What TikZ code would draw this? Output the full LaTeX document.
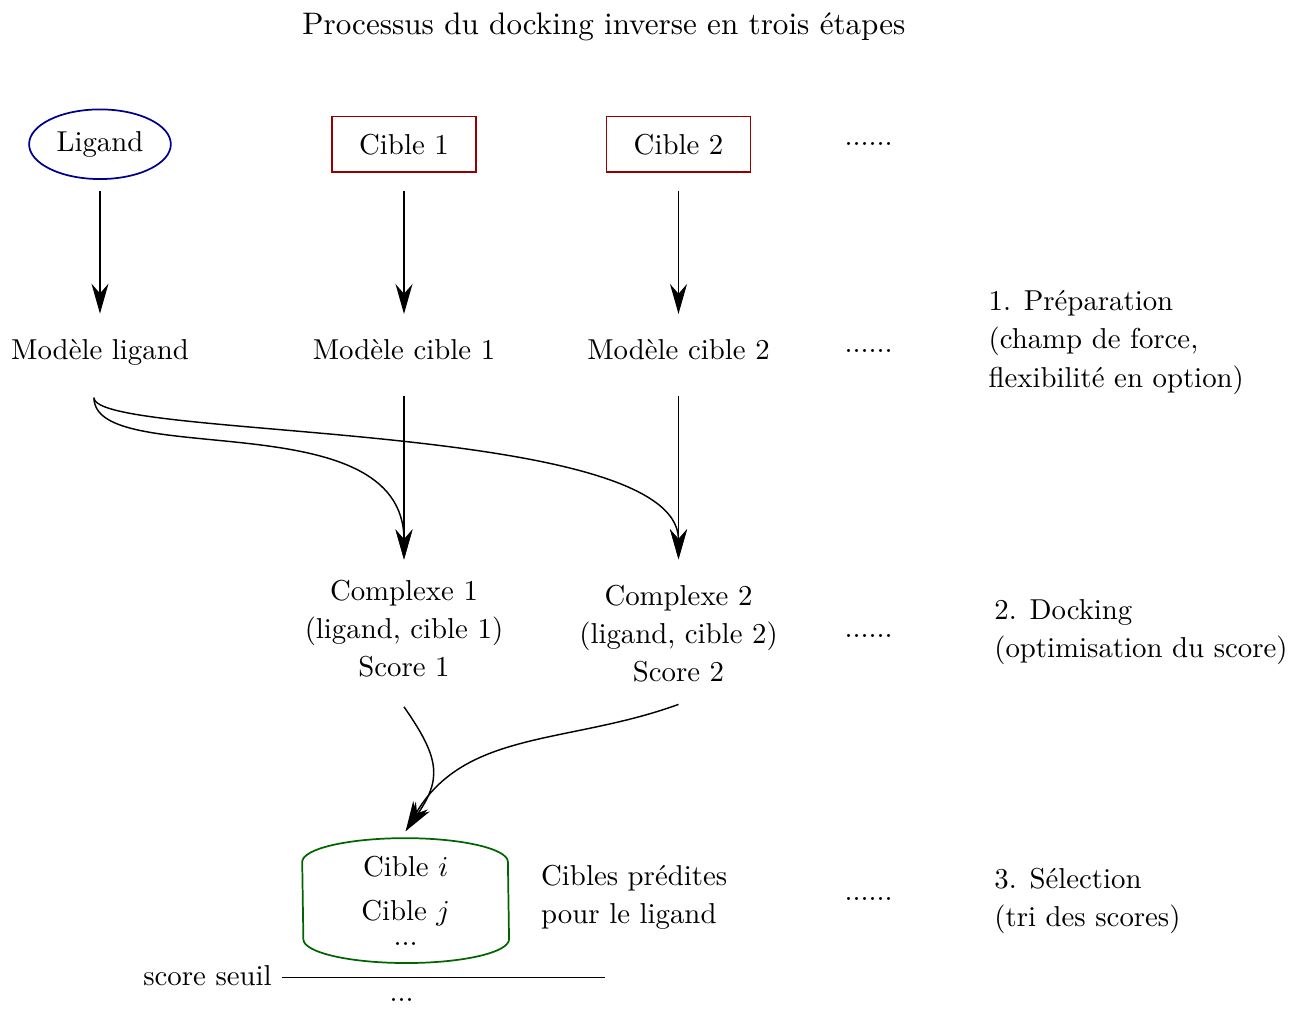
\documentclass[tikz,border=0pt]{standalone}
\usepackage{amsmath}
\usepackage{tikz}
\usepackage{xcolor}
\usetikzlibrary{positioning,shapes,arrows.meta}
\definecolor{bleuligand}{RGB}{0,0,140}
\definecolor{rougecible}{RGB}{150,0,0}
\definecolor{vertcible}{RGB}{0,100,0}
\linespread{1.1}

\begin{document}
\begin{tikzpicture}
\tikzstyle{fleche}=[-{Stealth[length=10.4pt,width=5.9pt]},line width=0.5pt]
\tikzstyle{ligandnode}=[ellipse,draw=bleuligand,line width=0.6pt,minimum width=1.73cm,minimum height=0.85cm,inner sep=0pt]
\tikzstyle{ciblenode}=[rectangle,draw=rougecible,line width=0.6pt,minimum width=1.76cm,minimum height=0.68cm,inner sep=0pt]
\tikzstyle{etape}=[align=left,anchor=west]
\useasboundingbox (0,0) rectangle (15.73,-12.32);
\node[font=\fontsize{10.8}{13}\selectfont] (titre) at (7.37,-0.33) {Processus du docking inverse en trois étapes};
\node[ligandnode] (ligand) at (1.22,-1.76) {Ligand};
\node[ciblenode] (cible1) at (4.93,-1.76) {Cible 1};
\node[ciblenode] (cible2) at (8.28,-1.76) {Cible 2};
\node (pts1) at (10.60,-1.76) {......};
\node (mligand) at (1.22,-4.30) {Modèle ligand};
\node (mcible1) at (4.93,-4.27) {Modèle cible 1};
\node (mcible2) at (8.28,-4.27) {Modèle cible 2};
\node (pts2) at (10.60,-4.28) {......};
\node[etape] (prep) at (11.94,-4.18) {1. Préparation\\(champ de force,\\flexibilité en option)};
\node[align=center] (cplx1) at (4.93,-7.67) {Complexe 1\\(ligand, cible 1)\\Score 1};
\node[align=center] (cplx2) at (8.28,-7.73) {Complexe 2\\(ligand, cible 2)\\Score 2};
\node (pts3) at (10.60,-7.76) {......};
\node[etape] (dock) at (12.01,-7.71) {2. Docking\\(optimisation du score)};
\node[align=center,minimum width=2.51cm,minimum height=1.51cm,inner sep=0pt] (select) at (4.95,-10.99) {Cible $i$\\[2.1pt]Cible $j$\\[-4.5pt]...};
\node[etape] (predites) at (6.48,-10.95) {Cibles prédites\\pour le ligand};
\node (pts4) at (10.60,-10.97) {......};
\node[etape] (tri) at (12.01,-10.99) {3. Sélection\\(tri des scores)};
\node[anchor=east] (seuil) at (3.44,-11.90) {score seuil};
\coordinate (seuilfin) at (7.38,-11.93);
\node (pts5) at (4.90,-12.20) {...};
\draw[vertcible,line width=0.6pt] ([yshift=-0.29cm]select.north west) arc[start angle=180,end angle=0,x radius=1.255cm,y radius=0.29cm] -- ([yshift=0.29cm]select.south east) arc[start angle=0,end angle=-180,x radius=1.255cm,y radius=0.29cm] -- cycle;
\draw[line width=0.6pt] ([yshift=-0.03cm]seuil.east) -- ([yshift=-0.03cm]seuil.east -| seuilfin);
\draw[fleche,shorten <=0.134cm,shorten >=0.19cm] (ligand) -- (mligand);
\draw[fleche,shorten <=0.22cm,shorten >=0.19cm] (cible1) -- (mcible1);
\draw[fleche,shorten <=0.22cm,shorten >=0.19cm] (cible2) -- (mcible2);
\draw[fleche,shorten <=0.31cm,shorten >=0.127cm] (mcible1) -- (cplx1);
\draw[fleche,shorten <=0.31cm,shorten >=0.19cm] (mcible2) -- (cplx2);
\draw[fleche] ([xshift=-0.073cm,yshift=-0.27cm]mligand.south) .. controls +(0,-0.89) and +(0,1.95) .. ([yshift=0.127cm]cplx1.north);
\draw[fleche] ([xshift=-0.073cm,yshift=-0.27cm]mligand.south) .. controls +(0,-0.52) and +(0,1.71) .. ([yshift=0.19cm]cplx2.north);
\draw[fleche] ([yshift=-0.24cm]cplx1.south) to[out=-55,in=55,looseness=1.3] ([yshift=0.085cm]select.north);
\draw[fleche] ([yshift=-0.15cm]cplx2.south) to[out=200,in=60] ([yshift=0.085cm]select.north);
\end{tikzpicture}
\end{document}
